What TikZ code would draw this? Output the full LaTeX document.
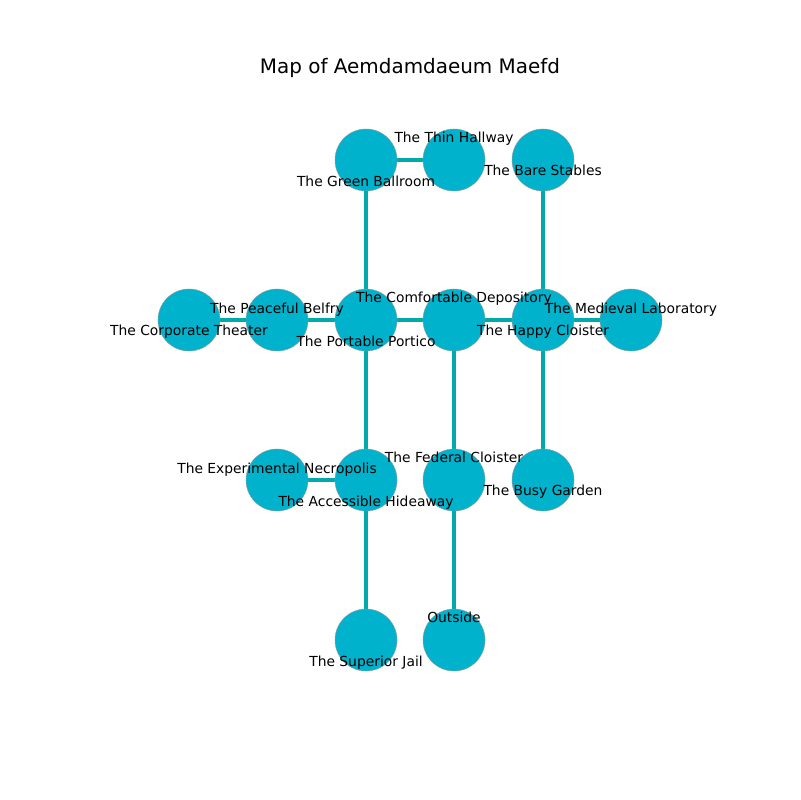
\documentclass[tikz,border=0pt]{standalone}
\usepackage{fontspec}
\setmainfont{DejaVu Sans}
\usetikzlibrary{backgrounds}
\definecolor{roomfill}{HTML}{00B2CC}
\definecolor{pathcol}{HTML}{00AAAA}
\begin{document}
\begin{tikzpicture}[x=0.01in,y=-0.01in,
  room/.style={circle, fill=roomfill, draw=gray!80, line width=0.3pt, minimum size=0.62in, inner sep=0pt},
  lbl/.style={inner sep=0pt, text height=1.5ex, text depth=.25ex, font=\fontsize{10}{12}\selectfont},
  passage/.style={pathcol, line width=3.3pt}]
\useasboundingbox (0,0) rectangle (800,800);
% заголовок
\node[font=\fontsize{14.4}{17}\selectfont, text height=1.5ex, text depth=.25ex] (title) at (410,69) {Map of Aemdamdaeum Maefd};
% комнаты
\def\rooms{gb/366/160/22/The Green Ballroom, th/454/160/-22/The Thin Hallway,
  bs/543/160/11/The Bare Stables, ct/189/320/11/The Corporate Theater,
  pb/277/320/-11/The Peaceful Belfry, pp/366/320/22/The Portable Portico,
  cd/454/320/-22/The Comfortable Depository, hc/543/320/11/The Happy Cloister,
  ml/631/320/-11/The Medieval Laboratory, en/277/480/-11/The Experimental Necropolis,
  ah/366/480/22/The Accessible Hideaway, fc/454/480/-22/The Federal Cloister,
  bg/543/480/11/The Busy Garden, sj/366/640/22/The Superior Jail,
  os/454/640/-22/Outside}
\foreach \n/\x/\y/\dy/\t in \rooms
  \node[room] (\n) at (\x,\y) {};
%переходы
\begin{scope}[on background layer]
\foreach \a/\b in {gb/th, gb/pp, bs/hc, ct/pb, pb/pp, pp/cd, cd/hc, hc/ml,
  pp/ah, cd/fc, hc/bg, en/ah, ah/sj, fc/os}
  \draw[passage] (\a.center) -- (\b.center);
\end{scope}
%подписи
\foreach \n/\x/\y/\dy/\t in \rooms
  \node[lbl] (\n-l) at (\x,\y+\dy) {\t};
\end{tikzpicture}
\end{document}
